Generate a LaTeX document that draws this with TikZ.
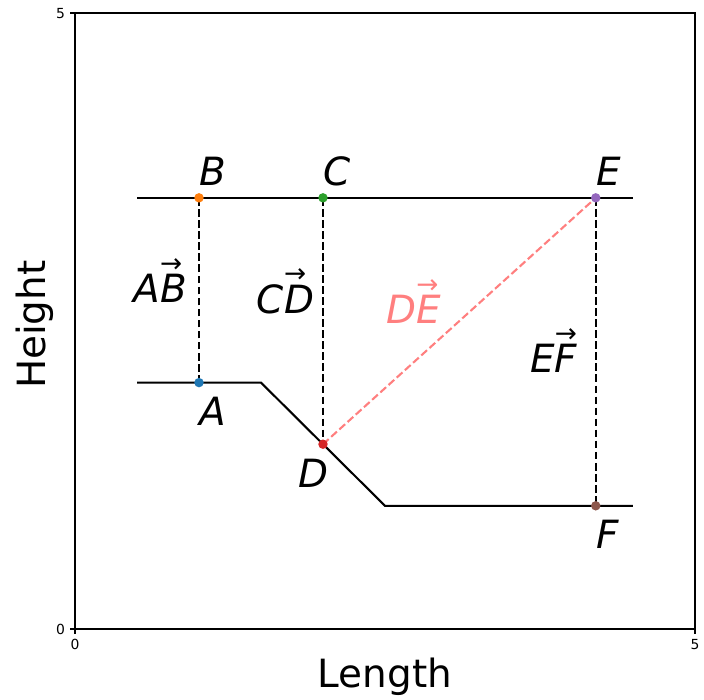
\documentclass[tikz,border=0pt]{standalone}
\usepackage{fontspec}
\setmainfont{DejaVu Sans}
\definecolor{ptblue}{HTML}{1F77B4}
\definecolor{ptorange}{HTML}{FF7F0E}
\definecolor{ptgreen}{HTML}{2CA02C}
\definecolor{ptred}{HTML}{D62728}
\definecolor{ptpurple}{HTML}{9467BD}
\definecolor{ptbrown}{HTML}{8C564B}
\definecolor{salmonline}{HTML}{FF7F7F}
\newcommand\vecto[2]{#1\rlap{\raisebox{0.78em}{\fontsize{19pt}{19pt}\selectfont\upshape →}}#2}
\begin{document}
\begin{tikzpicture}[x=89.28pt, y=88.704pt,
    profile/.style={line width=1.5pt},
    guide/.style={line width=1.5pt, dash pattern=on 5.55pt off 2.4pt},
    lbl/.style={font=\fontsize{28}{34}\selectfont\itshape, inner sep=0pt, anchor=base west},
    axlbl/.style={font=\fontsize{28}{34}\selectfont, inner sep=0pt, anchor=base},
    ticklbl/.style={font=\fontsize{10}{12}\selectfont, inner sep=0pt}]
  \useasboundingbox (-0.605,-0.576) rectangle (5.073,5.106);
  % Rahmen und Achsen
  \draw[line width=0.8pt] (0,0) rectangle (5,5);
  \draw[line width=0.8pt] (0,0) -- ++(0,-3.5pt) (5,0) -- ++(0,-3.5pt)
    (0,0) -- ++(-3.5pt,0) (0,5) -- ++(-3.5pt,0);
  \node[ticklbl, anchor=north] (x0) at ([yshift=-7pt]0,0) {0};
  \node[ticklbl, anchor=north] (x5) at ([yshift=-7pt]5,0) {5};
  \node[ticklbl, anchor=east] (y0) at ([xshift=-7pt]0,0) {0};
  \node[ticklbl, anchor=east] (y5) at ([xshift=-7pt]0,5) {5};
  \node[axlbl] (xlab) at (2.5,-0.479) {Length};
  \node[axlbl, rotate=90] (ylab) at (-0.242,2.47) {Height};
  % Punkte
  \coordinate (A) at (1,2);
  \coordinate (B) at (1,3.5);
  \coordinate (C) at (2,3.5);
  \coordinate (D) at (2,1.5);
  \coordinate (E) at (4.2,3.5);
  \coordinate (F) at (4.2,1);
  % obere und untere Kontur
  \coordinate (t0) at (0.5,3.5);
  \coordinate (t1) at (4.5,3.5);
  \coordinate (b0) at (0.5,2);
  \coordinate (b1) at (1.5,2);
  \coordinate (b2) at (2.5,1);
  \coordinate (b3) at (4.5,1);
  \draw[profile] (t0) -- (t1);
  \draw[profile] (b0) -- (b1) -- (b2) -- (b3);
  % Verbindungen
  \draw[guide] (A) -- (B);
  \draw[guide] (C) -- (D);
  \draw[guide] (E) -- (F);
  \draw[guide, salmonline] (D) -- (E);
  \fill[ptblue] (A) circle (3.4pt);
  \fill[ptorange] (B) circle (3.4pt);
  \fill[ptgreen] (C) circle (3.4pt);
  \fill[ptred] (D) circle (3.4pt);
  \fill[ptpurple] (E) circle (3.4pt);
  \fill[ptbrown] (F) circle (3.4pt);
  % Beschriftung
  \node[lbl] (lA) at (1.0,1.65) {A};
  \node[lbl] (lB) at (1.0,3.6) {B};
  \node[lbl] (lC) at (2.0,3.6) {C};
  \node[lbl] (lD) at (1.8,1.15) {D};
  \node[lbl] (lE) at (4.2,3.6) {E};
  \node[lbl] (lF) at (4.2,0.65) {F};
  \node[lbl] (vAB) at (0.47,2.65) {\vecto{A}{B}};
  \node[lbl] (vCD) at (1.465,2.565) {\vecto{C}{D}};
  \node[lbl, text=salmonline] (vDE) at (2.51,2.48) {\vecto{D}{E}};
  \node[lbl] (vEF) at (3.67,2.08) {\vecto{E}{F}};
\end{tikzpicture}
\end{document}
